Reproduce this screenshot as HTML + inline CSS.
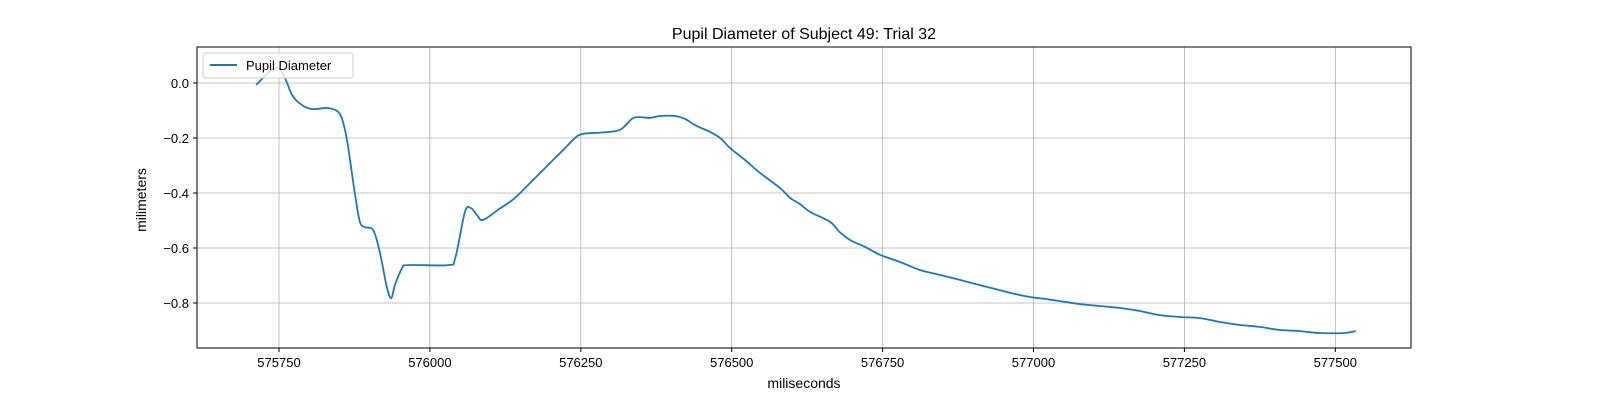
<!DOCTYPE html>
<html><head><meta charset="utf-8"><style>
body{margin:0;background:#fff;}
svg text{font-family:"Liberation Sans","DejaVu Sans",sans-serif;fill:#000;}
</style></head><body>
<svg id="chart" width="1600" height="400" xmlns="http://www.w3.org/2000/svg">
<rect width="1600" height="400" fill="#fff"/>
<text x="804" y="39" font-size="16" text-anchor="middle">Pupil Diameter of Subject 49: Trial 32</text>
<g id="grid"></g>
<g id="ticks"></g>
<path id="line" fill="none" stroke="#1f77b4" stroke-width="1.8" stroke-linejoin="round"/>
<rect x="197" y="47" width="1214" height="301" fill="none" stroke="#000" stroke-width="1"/>
<text x="804" y="388" font-size="14" text-anchor="middle">miliseconds</text>
<text x="146" y="200" font-size="14" text-anchor="middle" transform="rotate(-90 146 200)">milimeters</text>
<g>
<rect x="203" y="53" width="150" height="25" rx="3" fill="#fff" fill-opacity="0.8" stroke="#ccc"/>
<line x1="210" y1="65" x2="237" y2="65" stroke="#1f77b4" stroke-width="2"/>
<text x="246" y="70" font-size="13">Pupil Diameter</text>
</g>
</svg>
<script>
const timesMs=[575712,575748,575772,575788,575805,575831,575848,575856,575864,575876,575884,575892,575906,575917,575929,575936,575942,575954,575964,576030,576042,576058,576068,576078,576088,576115,576141,576168,576195,576222,576245,576262,576285,576315,576335,576348,576365,576381,576406,576423,576439,576464,576481,576497,576522,576547,576580,576597,576613,576630,576663,576679,576696,576721,576746,576779,576812,576845,576878,576911,576944,576969,576994,577019,577044,577077,577110,577143,577176,577209,577243,577276,577309,577342,577375,577408,577441,577474,577515,577534];
const diameters=[-0.007,0.055,-0.044,-0.080,-0.095,-0.091,-0.105,-0.142,-0.225,-0.407,-0.505,-0.524,-0.535,-0.615,-0.745,-0.782,-0.735,-0.673,-0.662,-0.662,-0.636,-0.469,-0.455,-0.480,-0.498,-0.458,-0.418,-0.359,-0.300,-0.241,-0.192,-0.183,-0.180,-0.170,-0.130,-0.124,-0.127,-0.120,-0.120,-0.131,-0.153,-0.178,-0.200,-0.236,-0.280,-0.327,-0.382,-0.418,-0.440,-0.469,-0.505,-0.542,-0.571,-0.596,-0.625,-0.651,-0.680,-0.698,-0.716,-0.735,-0.753,-0.767,-0.778,-0.785,-0.793,-0.804,-0.811,-0.818,-0.829,-0.844,-0.851,-0.855,-0.869,-0.880,-0.887,-0.898,-0.902,-0.909,-0.909,-0.902];
const xTicks=[575750,576000,576250,576500,576750,577000,577250,577500];
const yTicks=[0.0,-0.2,-0.4,-0.6,-0.8];
const yTickLabels=["0.0","−0.2","−0.4","−0.6","−0.8"];
const X=v=>279+(v-575750)*(150.9/250);
const Y=v=>83-v*275;
const NS="http://www.w3.org/2000/svg";
const grid=document.getElementById('grid'),ticks=document.getElementById('ticks');
function mk(tag,attrs,parent){const e=document.createElementNS(NS,tag);for(const k in attrs)e.setAttribute(k,attrs[k]);parent.appendChild(e);return e;}
xTicks.forEach(t=>{
  const x=X(t);
  const g=mk('line',{x1:x,x2:x,y1:47,y2:348,stroke:'#b0b0b0','stroke-width':0.8},grid);
  
  
  const tk=mk('line',{x1:x,x2:x,y1:348,y2:352,stroke:'#000'},ticks);
  
  
  const tx=mk('text',{x:x,y:367,'font-size':13,'text-anchor':'middle'},ticks);
  tx.textContent=String(t);
  
  
});
yTicks.forEach((t,i)=>{
  const y=Y(t);
  const g=mk('line',{x1:197,x2:1411,y1:y,y2:y,stroke:'#b0b0b0','stroke-width':0.8},grid);
  
  
  const tk=mk('line',{x1:193,x2:197,y1:y,y2:y,stroke:'#000'},ticks);
  
  
  const tx=mk('text',{x:189,y:y+5,'font-size':13,'text-anchor':'end'},ticks);
  tx.textContent=yTickLabels[i];
  
  
});
const pts=timesMs.map((t,i)=>[X(t),Y(diameters[i])]);
let d='M'+pts[0][0].toFixed(1)+','+pts[0][1].toFixed(1);
for(let i=0;i<pts.length-1;i++){
  const p0=pts[Math.max(0,i-1)],p1=pts[i],p2=pts[i+1],p3=pts[Math.min(pts.length-1,i+2)];
  const c1=[p1[0]+(p2[0]-p0[0])/6,p1[1]+(p2[1]-p0[1])/6];
  const c2=[p2[0]-(p3[0]-p1[0])/6,p2[1]-(p3[1]-p1[1])/6];
  d+=' C'+c1[0].toFixed(1)+','+c1[1].toFixed(1)+' '+c2[0].toFixed(1)+','+c2[1].toFixed(1)+' '+p2[0].toFixed(1)+','+p2[1].toFixed(1);
}
document.getElementById('line').setAttribute('d',d);
</script>
</body></html>
